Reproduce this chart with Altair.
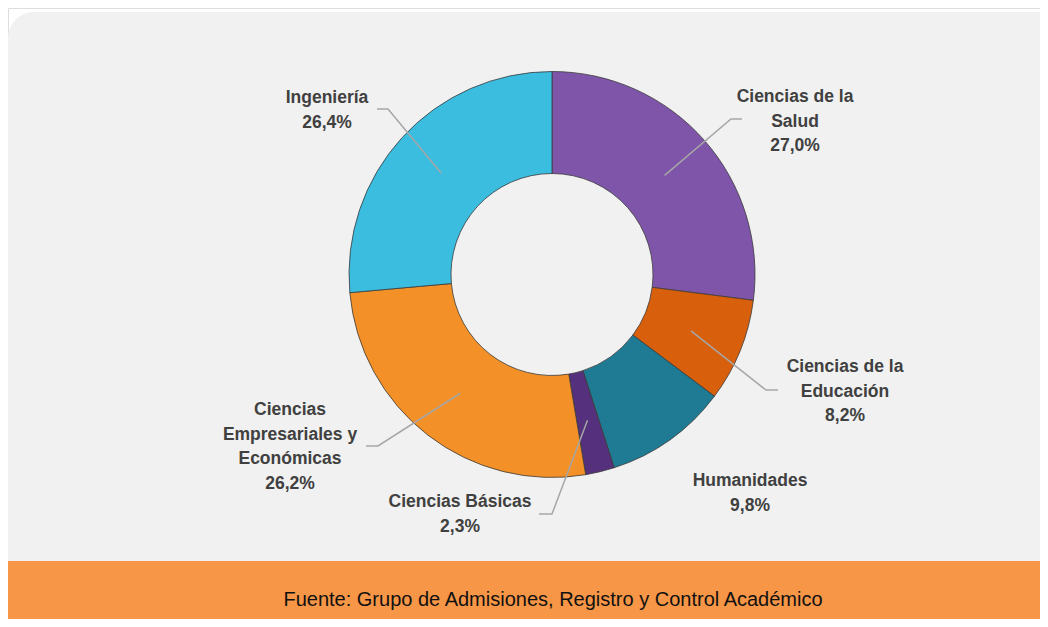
import math
import altair as alt
import pandas as pd

# ---- data ----
categories = ["Ciencias de la Salud", "Ciencias de la Educación", "Humanidades",
              "Ciencias Básicas", "Ciencias Empresariales y Económicas", "Ingeniería"]
label_names = ["Ciencias de la\nSalud", "Ciencias de la\nEducación", "Humanidades",
               "Ciencias Básicas", "Ciencias\nEmpresariales y\nEconómicas", "Ingeniería"]
values = [27.0, 8.2, 9.8, 2.3, 26.2, 26.4]
colors = ["#7f55aa", "#d8600c", "#1f7b93", "#55307c", "#f39128", "#3bbde0"]
source_text = "Fuente: Grupo de Admisiones, Registro y Control Académico"

# ---- layout (page pixel coordinates) ----
OX, OY = 8, 8           # page position of the chart origin
W, H = 1032, 611
CX, CY = 552, 274.5
R_OUT, R_IN = 203, 101
R_LEAD = 150
label_pos = [(795, 97), (845, 367), (750, 481), (460, 502), (290, 410), (327, 98)]
leader_elbow = [(731, 119), (766, 390), None, (552, 514), (378, 446), (388, 109)]
leader_end = [(742, 119), (778, 390), None, (539, 514), (366, 446), (377, 109)]

FONT = "Liberation Sans, Arial, sans-serif"

xs = alt.Scale(domain=[OX, OX + W], range=[0, W])
ys = alt.Scale(domain=[OY, OY + H], range=[0, H])

total = sum(values)
df = pd.DataFrame({"cat": categories, "value": values, "idx": list(range(len(values)))})

lab_rows = []
for i, (name, v) in enumerate(zip(label_names, values)):
    txt = name + "\n" + f"{v:.1f}".replace(".", ",") + "%"
    lab_rows.append({"text": txt, "x": label_pos[i][0], "y": label_pos[i][1]})
lab_df = pd.DataFrame(lab_rows)

lead_rows = []
cum = 0.0
for i, v in enumerate(values):
    mid = (cum + v / 2) / total * 2 * math.pi
    cum += v
    if leader_elbow[i] is None:
        continue
    sx = CX + R_LEAD * math.sin(mid)
    sy = CY - R_LEAD * math.cos(mid)
    pts = [(sx, sy), leader_elbow[i], leader_end[i]]
    for k, (px, py) in enumerate(pts):
        lead_rows.append({"id": i, "o": k, "x": px, "y": py})
lead_df = pd.DataFrame(lead_rows)

one = pd.DataFrame({"a": [0]})

bg = alt.Chart(one).mark_rect(color="#f1f1f1", cornerRadius=26).encode(
    x=alt.value(0), x2=alt.value(W + 30), y=alt.value(12 - OY), y2=alt.value(H + 30)
)

footer = alt.Chart(one).mark_rect(color="#f79646").encode(
    x=alt.value(0), x2=alt.value(W), y=alt.value(561 - OY), y2=alt.value(H + 5)
)

footer_text = alt.Chart(pd.DataFrame({"t": [source_text]})).mark_text(
    font=FONT, fontSize=20, color="#111111", align="center", baseline="middle"
).encode(text="t:N", x=alt.value(553 - OX), y=alt.value(600 - OY))

arcs = alt.Chart(df).mark_arc(
    outerRadius=R_OUT, innerRadius=R_IN, stroke="#3a3a3a", strokeWidth=0.8
).encode(
    theta=alt.Theta("value:Q", stack=True),
    order=alt.Order("idx:Q"),
    color=alt.Color("cat:N", scale=alt.Scale(domain=categories, range=colors), legend=None),
    x=alt.value(CX - OX),
    y=alt.value(CY - OY),
)

leaders = alt.Chart(lead_df).mark_line(color="#a6a6a6", strokeWidth=1.5).encode(
    x=alt.X("x:Q", scale=xs, axis=None),
    y=alt.Y("y:Q", scale=ys, axis=None),
    detail="id:N",
    order="o:Q",
)

labels = alt.Chart(lab_df).mark_text(
    font=FONT, fontSize=17.5, fontWeight="bold", color="#404040",
    align="center", baseline="middle", lineBreak="\n", lineHeight=24.5
).encode(
    x=alt.X("x:Q", scale=xs, axis=None),
    y=alt.Y("y:Q", scale=ys, axis=None),
    text="text:N",
)

chart = alt.layer(bg, footer, footer_text, arcs, leaders, labels).properties(
    width=W, height=H, padding=0, autosize=alt.AutoSizeParams(type="none")
).configure_view(stroke=None).configure(background="#ffffff")

chart.save("out.html", embed_options={"renderer": "svg", "actions": False})
